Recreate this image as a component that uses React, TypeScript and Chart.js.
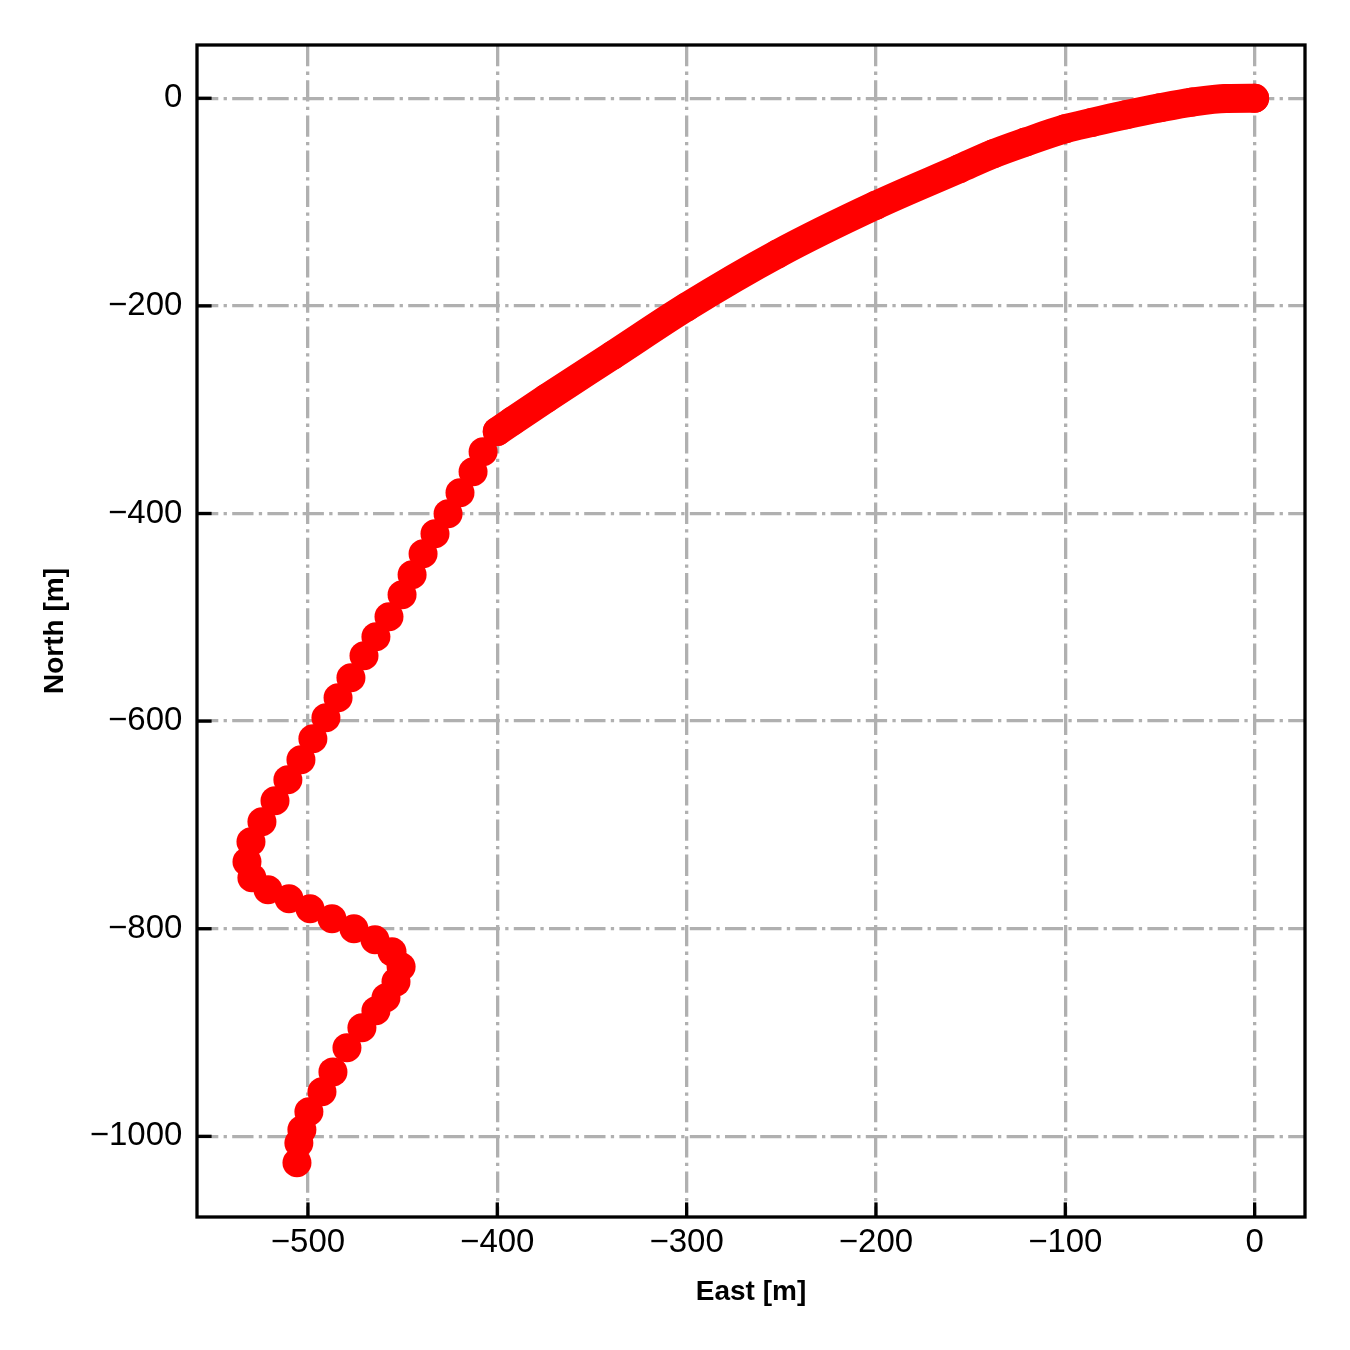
import React, { useEffect, useRef } from "react";
import { Chart, registerables } from "chart.js";

Chart.register(...registerables);

// Dense part of the track (markers overlap into a continuous band)
const EAST_DENSE = [0, -15, -33, -50, -68, -86, -100, -121, -138, -156, -200, -252, -300, -339, -374, -392, -400];
const NORTH_DENSE = [0, -0.2, -3.7, -9.2, -15.9, -23.3, -29.4, -42.2, -53.5, -67.9, -103, -150, -201, -247.5, -289, -311, -321];

// Sparse part of the track (individual markers)
const EAST_SPARSE = [
  -407.5, -412.8, -419.7, -426.0, -432.9, -439.2, -445.0, -450.3, -457.2, -464.1,
  -470.4, -477.3, -484.1, -490.5, -497.4, -503.7, -510.6, -517.4, -524.3, -530.1,
  -532.2, -529.6, -521.1, -510.0, -498.9, -487.3, -475.7, -464.6, -455.6, -450.8,
  -453.5, -458.8, -464.1, -471.5, -479.4, -486.8, -492.6, -499.5, -503.2, -504.8, -505.8,
];
const NORTH_SPARSE = [
  -340.6, -359.8, -380.1, -400.3, -419.5, -438.8, -459.1, -478.3, -499.5, -518.8,
  -537.1, -558.3, -577.6, -596.8, -617.1, -637.3, -656.5, -676.8, -697.0, -716.3,
  -735.5, -751.0, -762.5, -771.2, -780.8, -790.5, -800.1, -810.7, -822.3, -836.7,
  -851.2, -866.6, -879.1, -895.5, -914.7, -937.9, -957.1, -976.4, -993.7, -1006.3, -1025.5,
];

const X_TICKS = [-500, -400, -300, -200, -100, 0];
const Y_TICKS = [-1000, -800, -600, -400, -200, 0];
const X_RANGE = [-558.6, 26.6];
const Y_RANGE = [-1077.7, 51.3];

const X_LABEL = "East [m]";
const Y_LABEL = "North [m]";

const RED = "#ff0000";
const GRID = "#b0b0b0";
const FONT = '"Liberation Sans", Arial, Helvetica, sans-serif';
const TICK_LEN = 14.6;
const LW = 3.3;
const MARKER_R = 14.5;

const fmt = (v: number) => (v < 0 ? "\u2212" + Math.abs(v) : String(v));

const framePlugin = {
  id: "frameAndTicks",
  afterDraw(chart: any) {
    const { ctx, chartArea } = chart;
    const xs = chart.scales.x;
    const ys = chart.scales.y;
    ctx.save();
    ctx.strokeStyle = "#000";
    ctx.lineWidth = LW;
    ctx.lineCap = "butt";
    X_TICKS.forEach((v) => {
      const px = xs.getPixelForValue(v);
      ctx.beginPath();
      ctx.moveTo(px, chartArea.bottom);
      ctx.lineTo(px, chartArea.bottom - TICK_LEN);
      ctx.stroke();
    });
    Y_TICKS.forEach((v) => {
      const py = ys.getPixelForValue(v);
      ctx.beginPath();
      ctx.moveTo(chartArea.left, py);
      ctx.lineTo(chartArea.left + TICK_LEN, py);
      ctx.stroke();
    });
    ctx.strokeRect(
      chartArea.left,
      chartArea.top,
      chartArea.right - chartArea.left,
      chartArea.bottom - chartArea.top
    );
    ctx.restore();
  },
};

export default function App() {
  const ref = useRef<HTMLCanvasElement | null>(null);

  useEffect(() => {
    if (!ref.current) return;
    const dense = EAST_DENSE.map((x, i) => ({ x, y: NORTH_DENSE[i] }));
    const sparse = EAST_SPARSE.map((x, i) => ({ x, y: NORTH_SPARSE[i] }));
    const dash = [21.3, 5.3, 3.3, 5.3];

    const chart = new Chart(ref.current, {
      type: "scatter",
      data: {
        datasets: [
          {
            label: "track dense",
            data: dense,
            showLine: true,
            borderColor: RED,
            backgroundColor: RED,
            borderWidth: MARKER_R * 2,
            borderCapStyle: "round",
            borderJoinStyle: "round",
            cubicInterpolationMode: "monotone",
            pointRadius: MARKER_R,
            pointBorderWidth: 0,
            pointBackgroundColor: RED,
          } as any,
          {
            label: "track",
            data: sparse,
            showLine: false,
            backgroundColor: RED,
            borderColor: RED,
            pointRadius: MARKER_R,
            pointBorderWidth: 0,
            pointBackgroundColor: RED,
          } as any,
        ],
      },
      options: {
        animation: false,
        responsive: false,
        devicePixelRatio: 1,
        layout: { padding: { top: 45, right: 45, left: 0, bottom: 0 } },
        plugins: { legend: { display: false }, tooltip: { enabled: false } },
        scales: {
          x: {
            type: "linear",
            min: X_RANGE[0],
            max: X_RANGE[1],
            afterBuildTicks: (s: any) => {
              s.ticks = X_TICKS.map((v) => ({ value: v }));
            },
            afterFit: (s: any) => {
              s.height = 133;
            },
            grid: { color: GRID, lineWidth: LW, drawTicks: false },
            border: { display: false, dash },
            ticks: {
              color: "#000",
              padding: 6,
              font: { family: FONT, size: 33 },
              maxRotation: 0,
              callback: (v: any) => fmt(Number(v)),
            },
            title: {
              display: true,
              text: X_LABEL,
              color: "#000",
              font: { family: FONT, size: 28, weight: "bold" },
              padding: { top: 0, bottom: 41 },
            },
          },
          y: {
            type: "linear",
            min: Y_RANGE[0],
            max: Y_RANGE[1],
            afterBuildTicks: (s: any) => {
              s.ticks = Y_TICKS.map((v) => ({ value: v }));
            },
            afterFit: (s: any) => {
              s.width = 197;
            },
            grid: { color: GRID, lineWidth: LW, drawTicks: false },
            border: { display: false, dash },
            ticks: {
              color: "#000",
              padding: 14.6,
              font: { family: FONT, size: 33 },
              callback: (v: any) => fmt(Number(v)),
            },
            title: {
              display: true,
              text: Y_LABEL,
              color: "#000",
              font: { family: FONT, size: 28, weight: "bold" },
              padding: { top: 38, bottom: 0 },
            },
          },
        },
      },
      plugins: [framePlugin],
    });
    return () => chart.destroy();
  }, []);

  return (
    <div
      style={{
        position: "absolute",
        left: 0,
        top: 0,
        width: 1350,
        height: 1350,
        background: "#fff",
      }}
    >
      <canvas ref={ref} width={1350} height={1350} style={{ width: 1350, height: 1350 }} />
    </div>
  );
}
